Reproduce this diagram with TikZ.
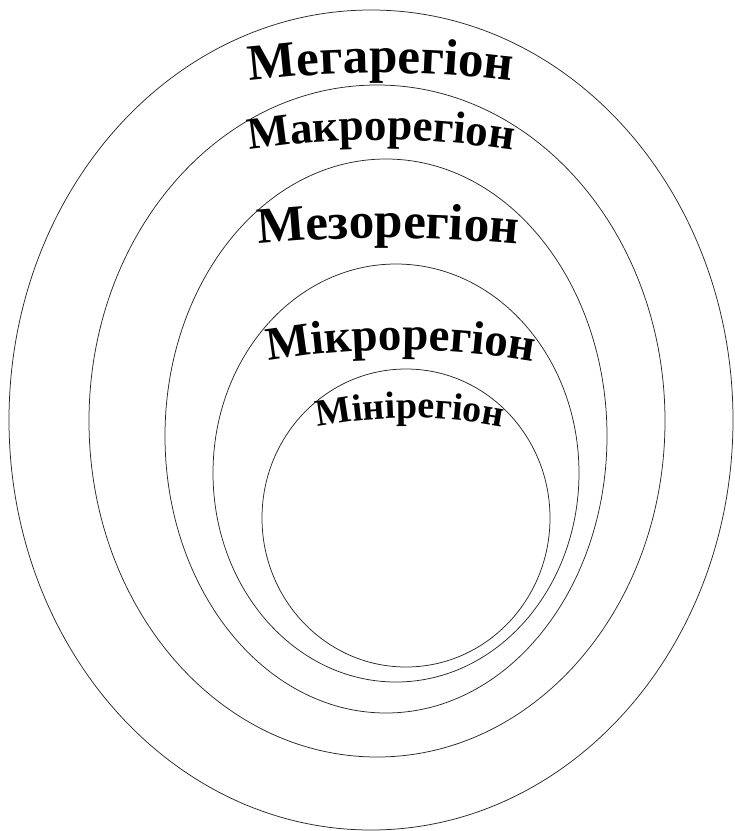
\documentclass[tikz,border=0pt]{standalone}
\usepackage{fontspec}
\setmainfont{Liberation Serif}
\usetikzlibrary{decorations.text}
\tikzset{
  ring/.style={draw=black!85, line width=0.75pt},
  arctext/.style n args={2}{decorate, decoration={text along path, text align=center,
     text={|\bfseries\fontsize{#1}{#1}\selectfont|#2}}}
}
\begin{document}
\begin{tikzpicture}[x=1pt,y=1pt]
\useasboundingbox (0,0) rectangle (735,-831);
% rings
\draw[ring] (371,-420) ellipse [x radius=362pt, y radius=410pt];
\draw[ring] (377,-421) ellipse [x radius=288pt, y radius=336pt];
\draw[ring] (386,-436) ellipse [x radius=221pt, y radius=277pt];
\draw[ring] (396,-473) ellipse [x radius=183pt, y radius=209pt];
\draw[ring] (406,-518) ellipse [x radius=144pt, y radius=149pt];
% labels
\path[arctext={51}{Мегарегіон}] (381,-1149) ++(104:1076pt) arc[start angle=104, end angle=76, radius=1076pt];
\path[arctext={45}{Макрорегіон}] (381,-1003) ++(106:863pt) arc[start angle=106, end angle=74, radius=863pt];
\path[arctext={51}{Мезорегіон}] (388,-1606) ++(100:1368pt) arc[start angle=100, end angle=80, radius=1368pt];
\path[arctext={47}{Мікрорегіон}] (401,-1136) ++(108:786pt) arc[start angle=108, end angle=72, radius=786pt];
\path[arctext={38}{Мінірегіон}] (410,-903) ++(115:485pt) arc[start angle=115, end angle=65, radius=485pt];
\end{tikzpicture}
\end{document}
